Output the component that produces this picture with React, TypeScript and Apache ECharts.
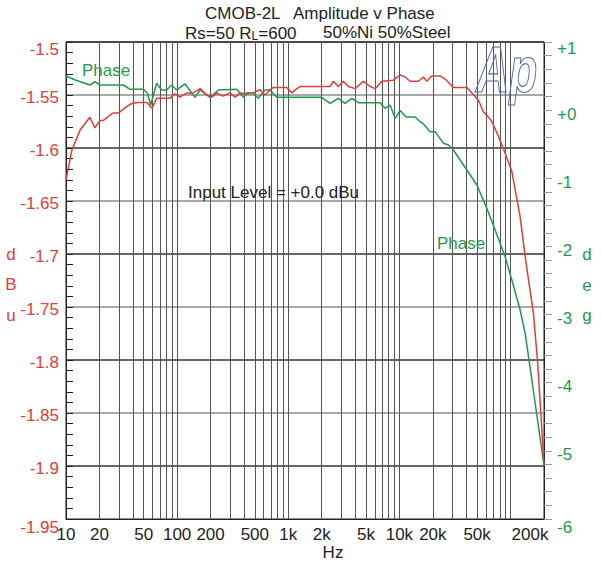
import React, { useEffect, useRef } from 'react';
import * as echarts from 'echarts';

// Amplitude (dBu) sweep, red trace, left axis
const ampFreq = [10, 11.3, 13.4, 16.4, 18.2, 20.2, 21.7, 26.5, 29.4, 35.2, 39.0, 44.4, 53.6, 59.4, 65.5, 86.2, 95.7, 106, 122, 139, 161, 185, 205, 227, 259, 299, 332, 368, 423, 482, 557, 618, 686, 730, 970, 1076, 1194, 1277, 2377, 2547, 2825, 3134, 3477, 3992, 4745, 5449, 6043, 6950, 8834, 10140, 11250, 12480, 14830, 16450, 17650, 19580, 23240, 25780, 30620, 40450, 44870, 51420, 57040, 61200, 67880, 77870, 89400, 102700, 122000, 135300, 144900, 160700, 174600, 187400, 200000];
const ampDbu = [-1.630, -1.602, -1.583, -1.571, -1.581, -1.574, -1.574, -1.567, -1.567, -1.561, -1.558, -1.557, -1.557, -1.5625, -1.553, -1.553, -1.549, -1.552, -1.548, -1.548, -1.544, -1.550, -1.552, -1.548, -1.551, -1.548, -1.552, -1.548, -1.549, -1.548, -1.545, -1.550, -1.545, -1.543, -1.543, -1.548, -1.544, -1.542, -1.542, -1.537, -1.542, -1.537, -1.542, -1.544, -1.537, -1.542, -1.544, -1.537, -1.536, -1.531, -1.533, -1.537, -1.537, -1.533, -1.537, -1.532, -1.532, -1.535, -1.543, -1.543, -1.548, -1.555, -1.566, -1.569, -1.575, -1.589, -1.605, -1.622, -1.665, -1.702, -1.724, -1.756, -1.800, -1.850, -1.900];

// Phase (deg) sweep, green trace, right axis
const phaseFreq = [10, 12.1, 16.4, 18.2, 20.2, 32.8, 37.7, 49.7, 54.0, 57.8, 65.5, 72.6, 80.5, 89.3, 99.1, 118, 145, 161, 198, 235, 344, 395, 423, 482, 535, 618, 686, 788, 2003, 2377, 2825, 3243, 3730, 4277, 6699, 7430, 8242, 9141, 10140, 11490, 13830, 15350, 16450, 18880, 20950, 24900, 27620, 30620, 40450, 49770, 61200, 72660, 89400, 102700, 122000, 135300, 155600, 178400, 200000];
const phaseDeg = [0.501, 0.442, 0.369, 0.417, 0.369, 0.369, 0.306, 0.306, 0.247, 0.075, 0.394, 0.296, 0.296, 0.369, 0.296, 0.384, 0.188, 0.296, 0.188, 0.296, 0.306, 0.188, 0.256, 0.247, 0.174, 0.296, 0.296, 0.188, 0.188, 0.100, 0.174, 0.100, 0.174, 0.109, 0.109, 0.027, 0.075, -0.120, -0.005, -0.101, -0.101, -0.170, -0.203, -0.316, -0.316, -0.487, -0.512, -0.585, -0.879, -1.099, -1.441, -1.759, -2.151, -2.493, -2.933, -3.275, -3.960, -4.646, -5.208];

// Axis ticks / labels
const gridMantissas = [1, 2, 3, 4, 5, 6, 7, 8, 9];
const gridDecades = [10, 100, 1000, 10000];
const gridExtra = [100000, 200000];
const xLabelFreqs = [10, 20, 50, 100, 200, 500, 1000, 2000, 5000, 10000, 20000, 50000, 200000];
const xLabelTexts = ['10', '20', '50', '100', '200', '500', '1k', '2k', '5k', '10k', '20k', '50k', '200k'];

const FONT = '"Liberation Sans", Arial, Helvetica, sans-serif';
const RED = '#e43b3b';
const GREEN = '#1f9a4d';
const INK = '#222';

const xLog = (f: number) => Math.log10(f);

export default function App() {
  const ref = useRef<HTMLDivElement>(null);
  useEffect(() => {
    if (!ref.current) return;
    const chart = echarts.init(ref.current, null, { renderer: 'svg' });
    const gridFreqs: number[] = [];
    gridDecades.forEach((d) => gridMantissas.forEach((m) => gridFreqs.push(d * m)));
    gridExtra.forEach((f) => gridFreqs.push(f));

    const rt = (color: string, pad: number[]) => ({ color, fontSize: 17, fontFamily: FONT, padding: pad });

    const option: any = {
      animation: false,
      backgroundColor: '#fff',
      grid: { left: 66, right: 58, top: 42, bottom: 45, show: true, borderColor: INK, borderWidth: 1, backgroundColor: 'transparent' },
      xAxis: {
        type: 'value',
        min: 1,
        max: xLog(200000),
        axisLine: { show: true, onZero: false, lineStyle: { color: INK, width: 1 } },
        axisTick: { show: false, customValues: gridFreqs.map(xLog) },
        splitLine: { show: true, lineStyle: { color: '#555', width: 1 } },
        axisLabel: {
          customValues: xLabelFreqs.map(xLog),
          showMinLabel: true,
          showMaxLabel: true,
          margin: 7,
          color: INK,
          fontSize: 17,
          fontFamily: FONT,
          formatter: (v: number) => {
            let idx = 0;
            let best = Infinity;
            xLabelFreqs.forEach((f, i) => {
              const d = Math.abs(xLog(f) - v);
              if (d < best) { best = d; idx = i; }
            });
            const key = idx === xLabelFreqs.length - 1 ? 'r' : 'n';
            return `{${key}|${xLabelTexts[idx]}}`;
          },
          rich: { n: rt(INK, [0, 0, 0, 0]), r: rt(INK, [0, 28, 0, 0]) },
        },
      },
      yAxis: [
        {
          type: 'value',
          position: 'left',
          min: -1.95,
          max: -1.5,
          interval: 0.05,
          axisLine: { show: true, onZero: false, lineStyle: { color: INK, width: 1 } },
          axisTick: { show: true, inside: true, length: 7, lineStyle: { color: INK } },
          minorTick: { show: true, splitNumber: 5, length: 7, lineStyle: { color: INK } },
          splitLine: { show: true, lineStyle: { color: ['#8c8c8c', '#333'], width: 1.5 } },
          axisLabel: {
            margin: 7,
            color: RED,
            fontSize: 17,
            fontFamily: FONT,
            formatter: (v: number) => {
              const s = String(Number(v.toFixed(2)));
              const key = Math.abs(v + 1.5) < 1e-6 ? 't' : Math.abs(v + 1.95) < 1e-6 ? 'b' : 'm';
              return `{${key}|${s}}`;
            },
            rich: { t: rt(RED, [14, 0, 0, 0]), b: rt(RED, [16, 0, 0, 0]), m: rt(RED, [4, 0, 0, 0]) },
          },
        },
        {
          type: 'value',
          position: 'right',
          min: -6,
          max: 1,
          interval: 1,
          axisLine: { show: true, onZero: false, lineStyle: { color: INK, width: 1 } },
          axisTick: { show: true, inside: false, length: 8, lineStyle: { color: '#999' } },
          minorTick: { show: true, splitNumber: 5, length: 8, lineStyle: { color: '#999' } },
          splitLine: { show: false },
          axisLabel: {
            margin: 13,
            color: GREEN,
            fontSize: 17,
            fontFamily: FONT,
            formatter: (v: number) => {
              const n = Math.round(v);
              const s = n >= 0 ? `+${n}` : `${n}`;
              const key = n === 1 ? 't' : n === -6 ? 'b' : 'm';
              return `{${key}|${s}}`;
            },
            rich: { t: rt(GREEN, [12, 0, 0, 0]), b: rt(GREEN, [16, 0, 0, 0]), m: rt(GREEN, [8, 0, 0, 0]) },
          },
        },
      ],
      graphic: [
        { type: 'text', x: 476, y: 70, scaleX: 0.72, z: 1, silent: true,
          style: { text: 'Ap', fontSize: 64, fontStyle: 'italic', fontWeight: 'bold', fontFamily: FONT, fill: 'transparent', stroke: '#5264ad', lineWidth: 1.2, align: 'left', verticalAlign: 'middle' } },
        { type: 'text', x: 205, y: 13, z: 10, style: { text: 'CMOB-2L', fontSize: 17, fontFamily: FONT, fill: INK, align: 'left', verticalAlign: 'middle' } },
        { type: 'text', x: 293, y: 13, z: 10, style: { text: 'Amplitude v Phase', fontSize: 17, fontFamily: FONT, fill: INK, align: 'left', verticalAlign: 'middle' } },
        { type: 'text', x: 185, y: 33, z: 10, style: { text: '{n|Rs=50 R}{s|L}{n|=600}', align: 'left', verticalAlign: 'middle',
            rich: { n: { fontSize: 17, fontFamily: FONT, fill: INK, color: INK, verticalAlign: 'bottom' }, s: { fontSize: 12, fontFamily: FONT, fill: INK, color: INK, verticalAlign: 'bottom' } } } },
        { type: 'text', x: 323, y: 32, z: 10, style: { text: '50%Ni 50%Steel', fontSize: 17, fontFamily: FONT, fill: INK, align: 'left', verticalAlign: 'middle' } },
        { type: 'text', x: 82, y: 70, z: 10, style: { text: 'Phase', fontSize: 17, fontFamily: FONT, fill: GREEN, align: 'left', verticalAlign: 'middle' } },
        { type: 'text', x: 437, y: 243, z: 10, style: { text: 'Phase', fontSize: 17, fontFamily: FONT, fill: GREEN, align: 'left', verticalAlign: 'middle' } },
        { type: 'text', x: 188, y: 192, z: 10, style: { text: 'Input Level = +0.0 dBu', fontSize: 17, fontFamily: FONT, fill: INK, align: 'left', verticalAlign: 'middle' } },
        { type: 'text', x: 333, y: 552, z: 10, style: { text: 'Hz', fontSize: 17, fontFamily: FONT, fill: INK, align: 'center', verticalAlign: 'middle' } },
        { type: 'text', x: 11, y: 254, z: 10, style: { text: 'd', fontSize: 17, fontFamily: FONT, fill: RED, align: 'center', verticalAlign: 'middle' } },
        { type: 'text', x: 11, y: 284, z: 10, style: { text: 'B', fontSize: 17, fontFamily: FONT, fill: RED, align: 'center', verticalAlign: 'middle' } },
        { type: 'text', x: 11, y: 315, z: 10, style: { text: 'u', fontSize: 17, fontFamily: FONT, fill: RED, align: 'center', verticalAlign: 'middle' } },
        { type: 'text', x: 587, y: 254, z: 10, style: { text: 'd', fontSize: 17, fontFamily: FONT, fill: GREEN, align: 'center', verticalAlign: 'middle' } },
        { type: 'text', x: 587, y: 285, z: 10, style: { text: 'e', fontSize: 17, fontFamily: FONT, fill: GREEN, align: 'center', verticalAlign: 'middle' } },
        { type: 'text', x: 587, y: 315, z: 10, style: { text: 'g', fontSize: 17, fontFamily: FONT, fill: GREEN, align: 'center', verticalAlign: 'middle' } },
      ],
      series: [
        {
          type: 'line',
          yAxisIndex: 1,
          data: phaseFreq.map((f, i) => [xLog(f), phaseDeg[i]]),
          showSymbol: false,
          symbol: 'none',
          lineStyle: { color: GREEN, width: 1.5 },
          z: 3,
        },
        {
          type: 'line',
          yAxisIndex: 0,
          data: ampFreq.map((f, i) => [xLog(f), ampDbu[i]]),
          showSymbol: false,
          symbol: 'none',
          lineStyle: { color: RED, width: 1.5 },
          z: 4,
        },
      ],
    };
    chart.setOption(option);
    return () => chart.dispose();
  }, []);
  return <div ref={ref} style={{ width: 602, height: 564, position: 'absolute', left: 0, top: 0 }} />;
}
